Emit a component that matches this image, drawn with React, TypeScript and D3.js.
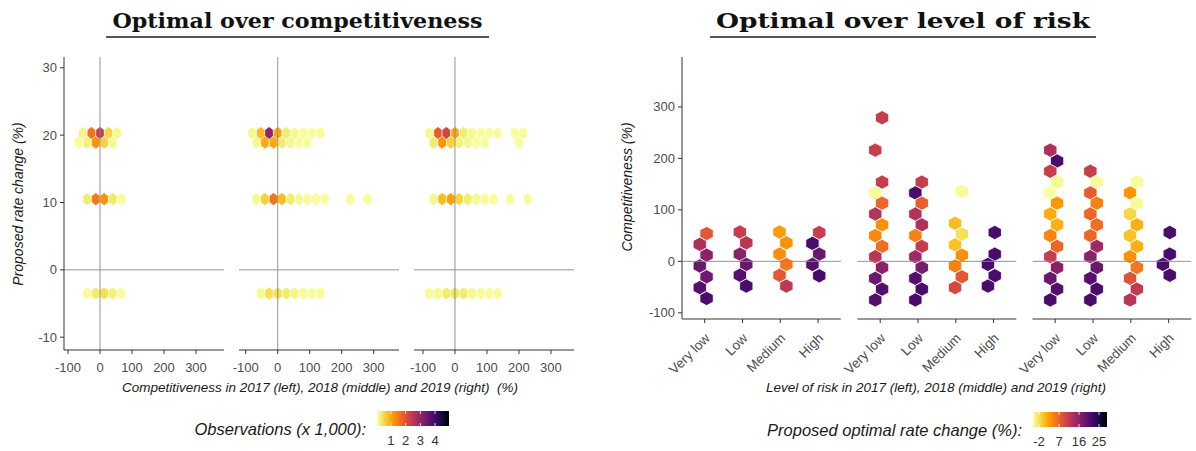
import React, { useEffect, useRef } from 'react';
import * as d3 from 'd3';

// categories and ticks
const years = ['2017', '2018', '2019'];
const riskLevels = ['Very low', 'Low', 'Medium', 'High'];
const compTicks = [-100, 0, 100, 200, 300];
const rateTicks = [-10, 0, 10, 20, 30];
const riskCompTicks = [-100, 0, 100, 200, 300];
const countTicks = [1, 2, 3, 4];
const rateLegendTicks = [-2, 7, 16, 25];

// left chart: [competitiveness %, proposed rate change %, observations x1000]
const obs2017 = [
  [-54, 20.3, 0.2], [-27, 20.3, 1.55], [0, 20.3, 2.4], [27, 20.3, 0.55], [53, 20.3, 0.15],
  [-67, 18.9, 0.1], [-40, 18.9, 0.25], [-13, 18.9, 1.2], [13, 18.9, 0.6], [40, 18.9, 0.15],
  [-40, 10.5, 0.3], [-13, 10.5, 1.5], [13, 10.5, 1.2], [40, 10.5, 0.35], [67, 10.5, 0.1],
  [-40, -3.5, 0.1], [-13, -3.5, 0.3], [13, -3.5, 0.45], [40, -3.5, 0.25], [67, -3.5, 0.1],
];
const obs2018 = [
  [-80, 20.3, 0.15], [-53, 20.3, 0.8], [-27, 20.3, 3.0], [0, 20.3, 1.0], [27, 20.3, 0.3],
  [53, 20.3, 0.15], [80, 20.3, 0.1], [107, 20.3, 0.1], [133, 20.3, 0.1],
  [-67, 18.9, 0.15], [-40, 18.9, 0.95], [-13, 18.9, 0.95], [13, 18.9, 0.3], [40, 18.9, 0.15],
  [67, 18.9, 0.1], [93, 18.9, 0.1],
  [-67, 10.5, 0.15], [-40, 10.5, 0.6], [-13, 10.5, 1.55], [13, 10.5, 0.8], [40, 10.5, 0.3],
  [67, 10.5, 0.15], [93, 10.5, 0.1], [120, 10.5, 0.1], [147, 10.5, 0.1], [227, 10.5, 0.1], [280, 10.5, 0.1],
  [-53, -3.5, 0.15], [-27, -3.5, 0.45], [0, -3.5, 0.45], [27, -3.5, 0.3], [53, -3.5, 0.2],
  [80, -3.5, 0.1], [107, -3.5, 0.1], [133, -3.5, 0.1],
];
const obs2019 = [
  [-80, 20.3, 0.15], [-53, 20.3, 1.85], [-27, 20.3, 2.2], [0, 20.3, 1.0], [27, 20.3, 0.3],
  [53, 20.3, 0.15], [80, 20.3, 0.1], [107, 20.3, 0.1], [133, 20.3, 0.1], [187, 20.3, 0.1], [213, 20.3, 0.1],
  [-67, 18.9, 0.3], [-40, 18.9, 1.2], [-13, 18.9, 0.6], [13, 18.9, 0.25], [40, 18.9, 0.15],
  [67, 18.9, 0.1], [93, 18.9, 0.1], [200, 18.9, 0.1],
  [-67, 10.5, 0.15], [-40, 10.5, 0.8], [-13, 10.5, 1.05], [13, 10.5, 0.55], [40, 10.5, 0.3],
  [67, 10.5, 0.15], [93, 10.5, 0.1], [120, 10.5, 0.1], [173, 10.5, 0.1], [227, 10.5, 0.1],
  [-80, -3.5, 0.1], [-53, -3.5, 0.15], [-27, -3.5, 0.3], [0, -3.5, 0.4], [27, -3.5, 0.3],
  [53, -3.5, 0.15], [80, -3.5, 0.1], [107, -3.5, 0.1], [133, -3.5, 0.1],
];

// right chart: [risk level position (1 = Very low .. 4 = High), competitiveness %, proposed rate change %]
const risk2017 = [
  [1.05, 54, 8], [0.87, 33, 13], [1.05, 12, 16], [0.87, -9, 18.6], [1.05, -30, 18.3], [0.87, -51, 20.3], [1.05, -72, 21.3],
  [1.93, 57, 11], [2.10, 36, 12], [1.93, 14, 16], [2.10, -6, 18.6], [1.93, -27, 20.3], [2.10, -48, 21.3],
  [2.98, 57, 2.5], [3.16, 36, 3.3], [2.98, 14, 3.6], [3.16, -6, 5.3], [2.98, -27, 8], [3.16, -48, 11.8],
  [4.03, 56, 11], [3.85, 35, 21.3], [4.03, 14, 18.6], [3.85, -6, 20.3], [4.03, -28, 21.3],
];
const risk2018 = [
  [1.05, 279, 11], [0.87, 216, 11], [1.05, 154, 11], [0.87, 133, -4.3], [1.05, 113, 6.5], [0.87, 92, 12.5],
  [1.05, 71, 3.3], [0.87, 50, 4], [1.05, 29, 6], [0.87, 9, 12], [1.05, -12, 16], [0.87, -33, 18.6],
  [1.05, -54, 20.5], [0.87, -75, 20.5],
  [2.10, 154, 11], [1.93, 133, 21.3], [2.10, 113, 7.5], [1.93, 92, 12.5], [2.10, 71, 13], [1.93, 50, 4.5],
  [2.10, 29, 11.2], [1.93, 9, 14.3], [2.10, -12, 17.5], [1.93, -33, 20.3], [2.10, -54, 21.3], [1.93, -75, 21.3],
  [3.16, 136, -4.3], [2.98, 74, 0.5], [3.16, 53, -2], [2.98, 32, 0], [3.16, 12, 3.4], [2.98, -9, 4.5],
  [3.16, -30, 8], [2.98, -51, 9.5],
  [4.03, 56, 21.3], [4.03, 14, 21.3], [3.85, -6, 21.3], [4.03, -28, 21.3], [3.85, -48, 21.3],
];
const risk2019 = [
  [0.87, 216, 13], [1.05, 195, 21.3], [0.87, 175, 11], [1.05, 154, -4], [0.87, 133, -4.5], [1.05, 113, 3],
  [0.87, 92, 1.5], [1.05, 71, 1.2], [0.87, 50, 4.2], [1.05, 29, 6.5], [0.87, 9, 11], [1.05, -12, 16],
  [0.87, -33, 18.6], [1.05, -54, 20.5], [0.87, -75, 21.3],
  [1.93, 175, 11], [2.10, 154, -4.3], [1.93, 133, 7.5], [2.10, 113, 4.5], [1.93, 92, 6.5], [2.10, 71, 6],
  [1.93, 50, 6.5], [2.10, 29, 14.3], [1.93, 9, 16], [2.10, -12, 18.6], [1.93, -33, 20.3], [2.10, -54, 21.3],
  [1.93, -75, 21.3],
  [3.16, 154, -4.3], [2.98, 133, 3], [3.16, 113, -4.2], [2.98, 92, -1.4], [3.16, 71, 1.2], [2.98, 50, 0],
  [3.16, 29, 1.2], [2.98, 9, 3.3], [3.16, -12, 5.3], [2.98, -33, 8.5], [3.16, -54, 11.5], [2.98, -75, 12],
  [4.03, 56, 21.3], [4.03, 14, 21.3], [3.85, -6, 21.3], [4.03, -27, 21.3],
];

const obsByYear = [obs2017, obs2018, obs2019];
const riskByYear = [risk2017, risk2018, risk2019];

const sans = '"Liberation Sans", Arial, Helvetica, sans-serif';
const serif = '"DejaVu Serif", "Liberation Serif", serif';
const tickColor = '#4d4d4d';

const hexPath = (w, h) =>
  `M0,${-h / 2}L${w / 2},${-h / 4}L${w / 2},${h / 4}L0,${h / 2}L${-w / 2},${h / 4}L${-w / 2},${-h / 4}Z`;

function drawLegend(svg, id, x, y, w, h, domain, ticks, title) {
  const color = (v) => d3.interpolateInferno(1 - (v - domain[0]) / (domain[1] - domain[0]));
  const grad = svg.append('defs').append('linearGradient').attr('id', id);
  d3.range(0, 1.0001, 0.05).forEach((t) => {
    grad.append('stop').attr('offset', `${t * 100}%`).attr('stop-color', d3.interpolateInferno(1 - t));
  });
  svg.append('rect').attr('x', x).attr('y', y).attr('width', w).attr('height', h).attr('fill', `url(#${id})`);
  const s = d3.scaleLinear().domain(domain).range([x, x + w]);
  ticks.forEach((t) => {
    svg.append('line').attr('x1', s(t)).attr('x2', s(t)).attr('y1', y).attr('y2', y + 3)
      .attr('stroke', 'white').attr('stroke-width', 0.8);
    svg.append('line').attr('x1', s(t)).attr('x2', s(t)).attr('y1', y + h - 3).attr('y2', y + h)
      .attr('stroke', 'white').attr('stroke-width', 0.8);
    svg.append('text').attr('x', s(t)).attr('y', y + h + 19).attr('text-anchor', 'middle')
      .attr('font-family', sans).attr('font-size', 13).attr('fill', '#333').text(t);
  });
  svg.append('text').attr('x', x - 11).attr('y', y + 24).attr('text-anchor', 'end')
    .attr('font-family', sans).attr('font-style', 'italic').attr('font-size', 16.5).attr('fill', '#1a1a1a')
    .text(title);
  return color;
}

function drawChart(node) {
  const svg = d3.select(node);
  svg.selectAll('*').remove();

  // ---------------- left chart ----------------
  const countColor = drawLegend(svg, 'gLeft', 377, 411, 72, 15, [0.05, 4.95], countTicks, 'Observations (x 1,000):');
  const yL = d3.scaleLinear().domain([-11.9, 31.6]).range([350, 57]);
  const leftPanels = [
    { x0: 64, dom: [-112.5, 387.5] },
    { x0: 239, dom: [-121, 379] },
    { x0: 414, dom: [-128, 372] },
  ];
  const lw = 160;

  leftPanels.forEach((p, i) => {
    const xs = d3.scaleLinear().domain(p.dom).range([p.x0, p.x0 + lw]);
    const g = svg.append('g').attr('class', `left-${years[i]}`);
    g.selectAll('path.hex').data(obsByYear[i]).enter().append('path')
      .attr('class', 'hex')
      .attr('d', hexPath(8.4, 12.9))
      .attr('transform', (d) => `translate(${xs(d[0])},${yL(d[1])})`)
      .attr('fill', (d) => countColor(d[2]))
      .attr('stroke', 'white').attr('stroke-width', 0.5);

    g.append('line').attr('x1', xs(0)).attr('x2', xs(0)).attr('y1', 57).attr('y2', 350)
      .attr('stroke', '#888').attr('stroke-width', 0.9);
    g.append('line').attr('x1', p.x0).attr('x2', p.x0 + lw).attr('y1', yL(0)).attr('y2', yL(0))
      .attr('stroke', '#888').attr('stroke-width', 0.9);

    g.append('line').attr('x1', p.x0).attr('x2', p.x0 + lw).attr('y1', 350).attr('y2', 350)
      .attr('stroke', '#333').attr('stroke-width', 1);
    compTicks.forEach((t) => {
      g.append('line').attr('x1', xs(t)).attr('x2', xs(t)).attr('y1', 350).attr('y2', 354)
        .attr('stroke', '#333').attr('stroke-width', 1);
      g.append('text').attr('x', xs(t)).attr('y', 372).attr('text-anchor', 'middle')
        .attr('font-family', sans).attr('font-size', 13).attr('fill', tickColor).text(t);
    });
  });

  svg.append('line').attr('x1', 64).attr('x2', 64).attr('y1', 57).attr('y2', 350)
    .attr('stroke', '#333').attr('stroke-width', 1);
  rateTicks.forEach((t) => {
    svg.append('line').attr('x1', 60).attr('x2', 64).attr('y1', yL(t)).attr('y2', yL(t))
      .attr('stroke', '#333').attr('stroke-width', 1);
    svg.append('text').attr('x', 57).attr('y', yL(t) + 4.5).attr('text-anchor', 'end')
      .attr('font-family', sans).attr('font-size', 13).attr('fill', tickColor).text(t);
  });
  svg.append('text').attr('transform', 'translate(23,204) rotate(-90)').attr('text-anchor', 'middle')
    .attr('font-family', sans).attr('font-style', 'italic').attr('font-size', 14).attr('fill', '#1a1a1a')
    .text('Proposed rate change (%)');
  svg.append('text').attr('x', 320).attr('y', 392).attr('text-anchor', 'middle')
    .style('white-space', 'pre')
    .attr('font-family', sans).attr('font-style', 'italic').attr('font-size', 13.5).attr('fill', '#1a1a1a')
    .text('Competitiveness in 2017 (left), 2018 (middle) and 2019 (right)  (%)');

  // ---------------- right chart ----------------
  const rateColor = drawLegend(svg, 'gRight', 1033, 412, 74, 15, [-4.7, 28.6], rateLegendTicks, 'Proposed optimal rate change (%):');
  const yR = d3.scaleLinear().domain([-112, 397]).range([319, 57]);
  const rightPanels = [682, 857.5, 1032.5];
  const rw = 158.8;

  rightPanels.forEach((x0, i) => {
    const xs = d3.scaleLinear().domain([0.4, 4.6]).range([x0, x0 + rw]);
    const g = svg.append('g').attr('class', `right-${years[i]}`);
    g.selectAll('path.hex').data(riskByYear[i]).enter().append('path')
      .attr('class', 'hex')
      .attr('d', hexPath(13.3, 14.3))
      .attr('transform', (d) => `translate(${xs(d[0])},${yR(d[1])})`)
      .attr('fill', (d) => rateColor(d[2]))
      .attr('stroke', 'white').attr('stroke-width', 0.8);

    g.append('line').attr('x1', x0).attr('x2', x0 + rw).attr('y1', yR(0)).attr('y2', yR(0))
      .attr('stroke', '#888').attr('stroke-width', 0.9);

    g.append('line').attr('x1', x0).attr('x2', x0 + rw).attr('y1', 319).attr('y2', 319)
      .attr('stroke', '#333').attr('stroke-width', 1);
    riskLevels.forEach((lvl, k) => {
      const tx = xs(k + 1);
      g.append('line').attr('x1', tx).attr('x2', tx).attr('y1', 319).attr('y2', 323)
        .attr('stroke', '#333').attr('stroke-width', 1);
      g.append('text').attr('transform', `translate(${tx + 6},${339}) rotate(-45)`)
        .attr('text-anchor', 'end')
        .attr('font-family', sans).attr('font-size', 13.5).attr('fill', tickColor).text(lvl);
    });
  });

  svg.append('line').attr('x1', 682).attr('x2', 682).attr('y1', 57).attr('y2', 319)
    .attr('stroke', '#333').attr('stroke-width', 1);
  riskCompTicks.forEach((t) => {
    svg.append('line').attr('x1', 678).attr('x2', 682).attr('y1', yR(t)).attr('y2', yR(t))
      .attr('stroke', '#333').attr('stroke-width', 1);
    svg.append('text').attr('x', 675).attr('y', yR(t) + 4.5).attr('text-anchor', 'end')
      .attr('font-family', sans).attr('font-size', 13).attr('fill', tickColor).text(t);
  });
  svg.append('text').attr('transform', 'translate(632,187) rotate(-90)').attr('text-anchor', 'middle')
    .attr('font-family', sans).attr('font-style', 'italic').attr('font-size', 14).attr('fill', '#1a1a1a')
    .text('Competitiveness (%)');
  svg.append('text').attr('x', 936).attr('y', 392).attr('text-anchor', 'middle')
    .attr('font-family', sans).attr('font-style', 'italic').attr('font-size', 13.5).attr('fill', '#1a1a1a')
    .text('Level of risk in 2017 (left), 2018 (middle) and 2019 (right)');

  // ---------------- titles ----------------
  const titles = [
    { text: 'Optimal over competitiveness', cx: 297.5, x1: 106, x2: 489, len: 370 },
    { text: 'Optimal over level of risk', cx: 903, x1: 710, x2: 1096, len: 374 },
  ];
  titles.forEach((t) => {
    svg.append('text').attr('x', t.cx).attr('y', 28).attr('text-anchor', 'middle')
      .attr('font-family', serif).attr('font-weight', 'bold').attr('font-size', 20)
      .attr('textLength', t.len).attr('lengthAdjust', 'spacingAndGlyphs')
      .attr('fill', '#111').text(t.text);
    svg.append('line').attr('x1', t.x1).attr('x2', t.x2).attr('y1', 37).attr('y2', 37)
      .attr('stroke', '#555').attr('stroke-width', 2);
  });
}

export default function App() {
  const ref = useRef(null);
  useEffect(() => {
    drawChart(ref.current);
  }, []);
  return (
    <svg
      ref={ref}
      width={1196}
      height={451}
      style={{ position: 'absolute', left: 0, top: 0, background: 'white' }}
    />
  );
}
